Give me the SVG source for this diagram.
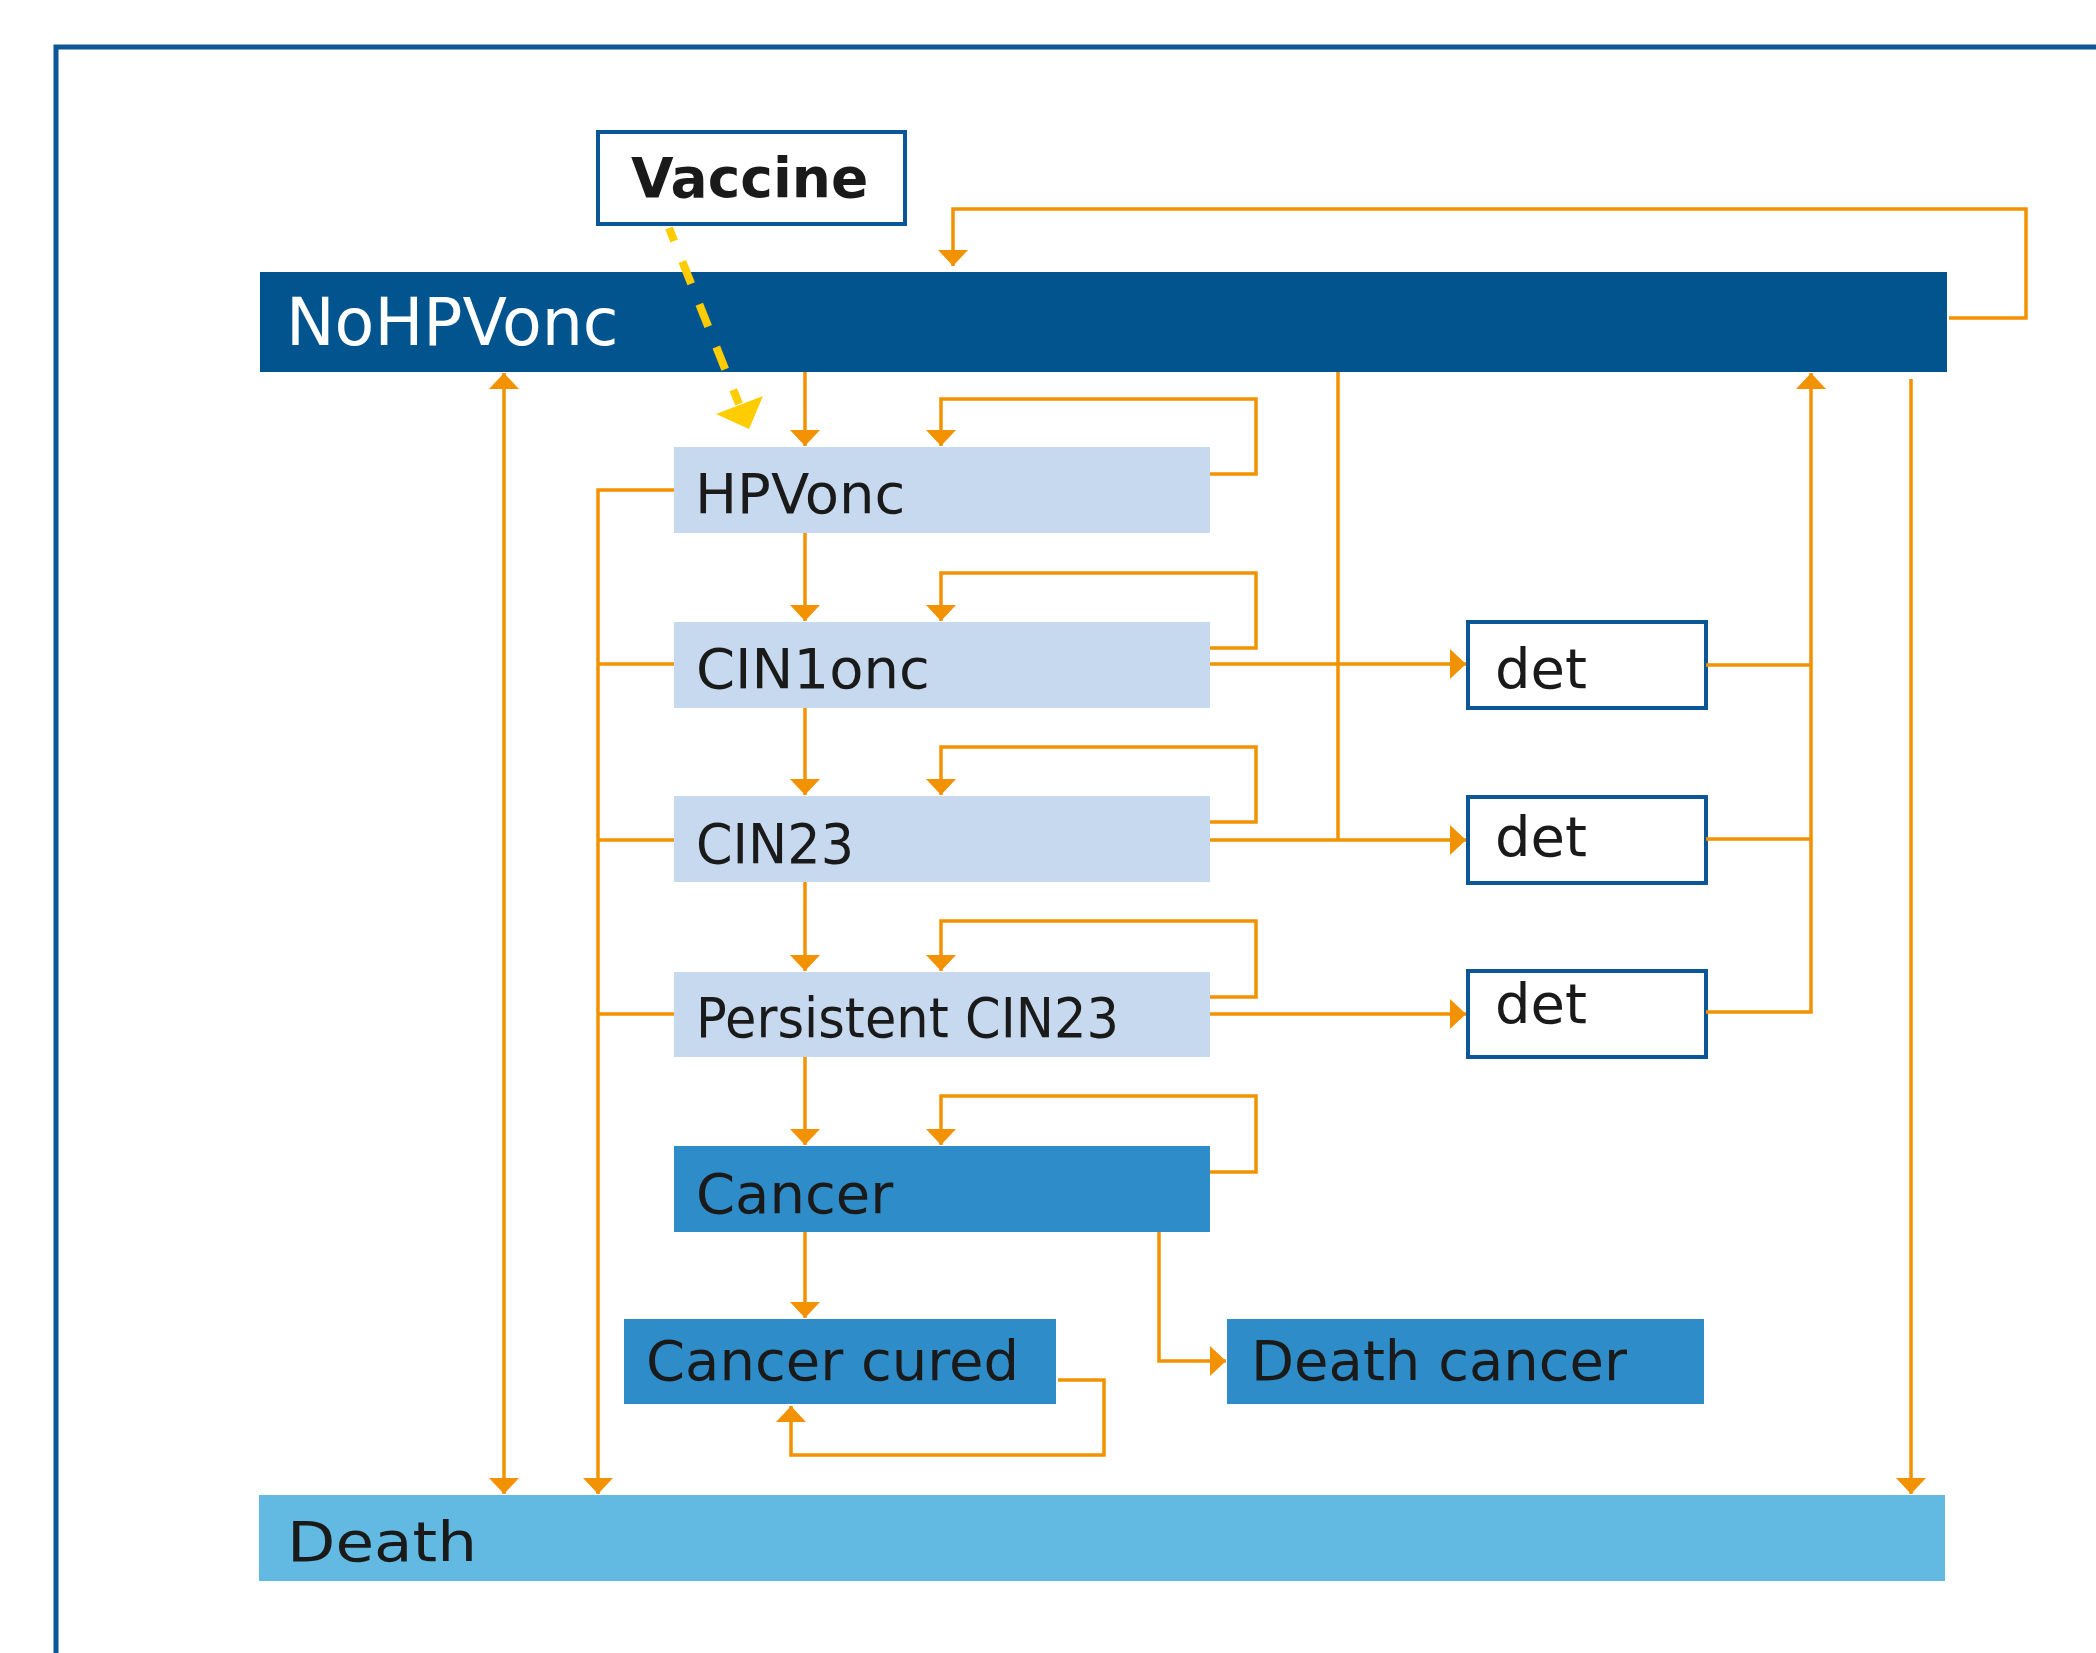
<svg xmlns="http://www.w3.org/2000/svg" width="2096" height="1653" viewBox="0 0 2096 1653">
<defs>
<style>
.frame{fill:none;stroke:#0A5697;stroke-width:5}
.c{fill:none;stroke:#F39200;stroke-width:3.5}
.lbl{font-family:"DejaVu Sans","Liberation Sans",sans-serif;font-size:56px;fill:#1A1A1A}
.light{fill:#C6D9EE}
.mid{fill:#2E8CC8}
.outline{fill:#FFFFFF;stroke:#0A5697;stroke-width:4}
</style>
<marker id="ah" viewBox="0 0 16 30" refX="16" refY="15" markerWidth="16" markerHeight="30" markerUnits="userSpaceOnUse" orient="auto-start-reverse">
<path d="M0,0 L16,15 L0,30 z" fill="#F39200"/>
</marker>
</defs>
<rect width="2096" height="1653" fill="#FFFFFF"/>
<path class="frame" d="M56,1653 V47 H2096"/>

<g id="vaccine">
<rect class="outline" x="598" y="132" width="307" height="92"/>
<text x="631" y="197" font-family="'DejaVu Sans','Liberation Sans',sans-serif" font-weight="bold" font-size="55" fill="#1A1A1A">Vaccine</text>
</g>
<g id="nohpvonc">
<rect x="260" y="272" width="1687" height="100" fill="#02548F"/>
<text x="286" y="345" font-family="'DejaVu Sans','Liberation Sans',sans-serif" font-size="65" fill="#FFFFFF">NoHPVonc</text>
</g>
<g id="hpvonc">
<rect class="light" x="674" y="447" width="536" height="86"/>
<text class="lbl" x="695" y="513" font-size="55">HPVonc</text>
</g>
<g id="cin1onc">
<rect class="light" x="674" y="622" width="536" height="86"/>
<text class="lbl" x="696" y="688">CIN1onc</text>
</g>
<g id="cin23">
<rect class="light" x="674" y="796" width="536" height="86"/>
<text class="lbl" x="696" y="863" textLength="158" lengthAdjust="spacingAndGlyphs">CIN23</text>
</g>
<g id="persistent-cin23">
<rect class="light" x="674" y="972" width="536" height="85"/>
<text class="lbl" x="696" y="1037" textLength="423" lengthAdjust="spacingAndGlyphs">Persistent CIN23</text>
</g>
<g id="cancer">
<rect class="mid" x="674" y="1146" width="536" height="86"/>
<text class="lbl" x="696" y="1213" font-size="58">Cancer</text>
</g>
<g id="cancer-cured">
<rect class="mid" x="624" y="1319" width="432" height="85"/>
<text class="lbl" x="646" y="1380" font-size="57">Cancer cured</text>
</g>
<g id="death-cancer">
<rect class="mid" x="1227" y="1319" width="477" height="85"/>
<text class="lbl" x="1251" y="1380">Death cancer</text>
</g>
<g id="det1">
<rect class="outline" x="1468" y="622" width="238" height="86"/>
<text class="lbl" x="1495" y="688" font-size="54">det</text>
</g>
<g id="det2">
<rect class="outline" x="1468" y="797" width="238" height="86"/>
<text class="lbl" x="1495" y="856" font-size="54">det</text>
</g>
<g id="det3">
<rect class="outline" x="1468" y="971" width="238" height="86"/>
<text class="lbl" x="1495" y="1023" font-size="54">det</text>
</g>
<g id="death">
<rect x="259" y="1495" width="1686" height="86" fill="#62BAE3"/>
<text class="lbl" x="287" y="1561" font-size="64" textLength="190" lengthAdjust="spacingAndGlyphs">Death</text>
</g>

<g id="connectors">
<path class="c" d="M1949,318 H2026 V209 H953 V266" marker-end="url(#ah)"/>
<path class="c" d="M805,372 V446" marker-end="url(#ah)"/>
<path class="c" d="M1210,474 H1256 V399 H941 V446" marker-end="url(#ah)"/>
<path class="c" d="M805,533 V621" marker-end="url(#ah)"/>
<path class="c" d="M1210,648 H1256 V573 H941 V621" marker-end="url(#ah)"/>
<path class="c" d="M805,708 V795" marker-end="url(#ah)"/>
<path class="c" d="M1210,822 H1256 V747 H941 V795" marker-end="url(#ah)"/>
<path class="c" d="M805,882 V971" marker-end="url(#ah)"/>
<path class="c" d="M1210,997 H1256 V921 H941 V971" marker-end="url(#ah)"/>
<path class="c" d="M805,1057 V1145" marker-end="url(#ah)"/>
<path class="c" d="M1210,1172 H1256 V1096 H941 V1145" marker-end="url(#ah)"/>
<path class="c" d="M805,1232 V1318" marker-end="url(#ah)"/>
<path class="c" d="M1058,1380 H1104 V1455 H791 V1406" marker-end="url(#ah)"/>
<path class="c" d="M1159,1232 V1361 H1226" marker-end="url(#ah)"/>
<path class="c" d="M1210,664 H1466" marker-end="url(#ah)"/>
<path class="c" d="M1210,840 H1466" marker-end="url(#ah)"/>
<path class="c" d="M1210,1014 H1466" marker-end="url(#ah)"/>
<path class="c" d="M1338,372 V840"/>
<path class="c" d="M1706,665 H1811"/>
<path class="c" d="M1706,839 H1811"/>
<path class="c" d="M1706,1012 H1811 V373" marker-end="url(#ah)"/>
<path class="c" d="M1911,379 V1494" marker-end="url(#ah)"/>
<path class="c" d="M674,490 H598 V1494" marker-end="url(#ah)"/>
<path class="c" d="M674,664 H598"/>
<path class="c" d="M674,840 H598"/>
<path class="c" d="M674,1014 H598"/>
<path class="c" d="M504,373 V1494" marker-start="url(#ah)" marker-end="url(#ah)"/>
<path d="M669,228 L739,404" fill="none" stroke="#FFCC00" stroke-width="8" stroke-dasharray="24 22" stroke-dashoffset="10"/>
<polygon points="716,414 763,396 749,429" fill="#FFCC00"/>
</g>
</svg>
